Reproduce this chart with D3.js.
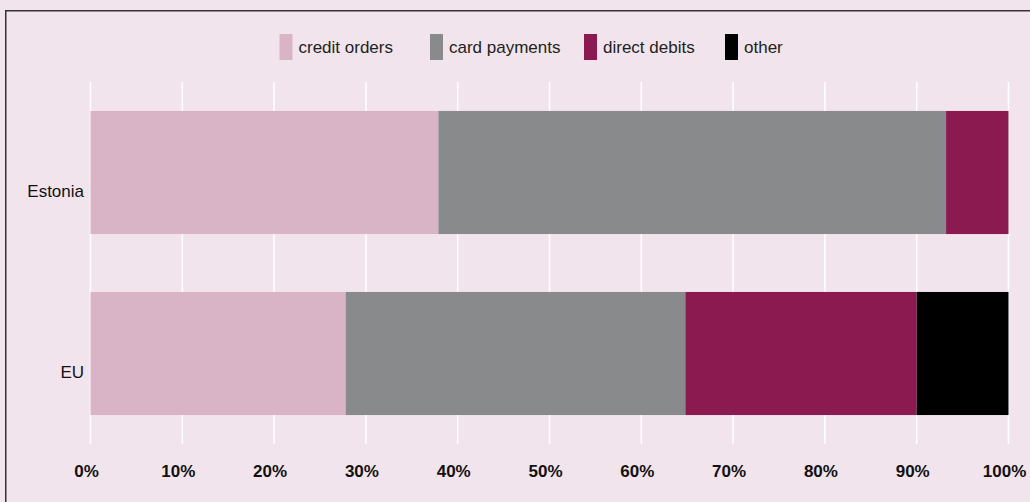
<!DOCTYPE html>
<html><head><meta charset="utf-8">
<script src="https://cdn.jsdelivr.net/npm/d3@7"></script>
<style>
html,body{margin:0;padding:0;background:#f2e4ec;}
svg{display:block;font-family:"Liberation Sans",Arial,Helvetica,sans-serif;}
</style></head>
<body><svg id="c" width="1030" height="502"></svg>
<script>
const categories = ["Estonia", "EU"];
const seriesNames = ["credit orders", "card payments", "direct debits", "other"];
const creditOrders = [37.9, 27.8];
const cardPayments = [55.3, 37.0];
const directDebits = [6.8, 25.2];
const other = [0.0, 10.0];
const tickValues = [0, 10, 20, 30, 40, 50, 60, 70, 80, 90, 100];
const tickLabels = ["0%","10%","20%","30%","40%","50%","60%","70%","80%","90%","100%"];
const colors = ["#d9b3c6", "#898a8b", "#8b1a51", "#000000"];

const svg = d3.select("#c");
const W = 1030, H = 502;
svg.append("rect").attr("width", W).attr("height", H).attr("fill", "#f2e4ec");
// frame
svg.append("path").attr("d", "M5.75,502 V10.75 H1030").attr("fill", "none").attr("stroke", "#333").attr("stroke-width", 1.5);

const x = d3.scaleLinear().domain([0, 100]).range([90.5, 1008.5]);
const y = d3.scaleBand().domain(categories).range([82, 444]).paddingInner(0.32).paddingOuter(0.16);

// gridlines
svg.append("g").selectAll("line").data(tickValues).join("line")
  .attr("x1", d => x(d)).attr("x2", d => x(d))
  .attr("y1", 82).attr("y2", 444)
  .attr("stroke", "#ffffff").attr("stroke-width", 1.5);

const rows = categories.map((c, i) => ({cat: c, "credit orders": creditOrders[i], "card payments": cardPayments[i], "direct debits": directDebits[i], "other": other[i]}));
const stack = d3.stack().keys(seriesNames)(rows);

svg.append("g").selectAll("g").data(stack).join("g")
  .attr("fill", (d, i) => colors[i])
  .selectAll("rect").data(d => d).join("rect")
  .attr("x", d => x(d[0]))
  .attr("width", d => Math.max(0, x(d[1]) - x(d[0])))
  .attr("y", d => y(d.data.cat))
  .attr("height", y.bandwidth());

// y labels (sit slightly below bar centre, as in reference)
svg.append("g").selectAll("text").data(categories).join("text")
  .attr("x", 84).attr("y", d => y(d) + y.bandwidth() / 2 + 19)
  .attr("text-anchor", "end").attr("dominant-baseline", "central")
  .attr("font-size", 17).attr("fill", "#111").text(d => d);

// x axis labels (shifted slightly left of gridlines, as in reference)
const xAxis = d3.axisBottom(x).tickValues(tickValues).tickFormat((d, i) => tickLabels[i]).tickSize(0).tickPadding(0);
const gx = svg.append("g").attr("transform", "translate(-4.5,465)").call(xAxis);
gx.select(".domain").remove();
gx.selectAll("text").attr("font-size", 17).attr("font-weight", "bold").attr("fill", "#111")
  .attr("font-family", "'Liberation Sans',Arial,sans-serif");

// legend
const legendX = [279.5, 430, 584, 725];
const lg = svg.append("g").selectAll("g").data(seriesNames).join("g")
  .attr("transform", (d, i) => `translate(${legendX[i]},34)`);
lg.append("rect").attr("width", 13).attr("height", 26).attr("fill", (d, i) => colors[i]);
lg.append("text").attr("x", 19).attr("y", 13).attr("dominant-baseline", "central")
  .attr("font-size", 17).attr("fill", "#222").text(d => d);
</script></body></html>
